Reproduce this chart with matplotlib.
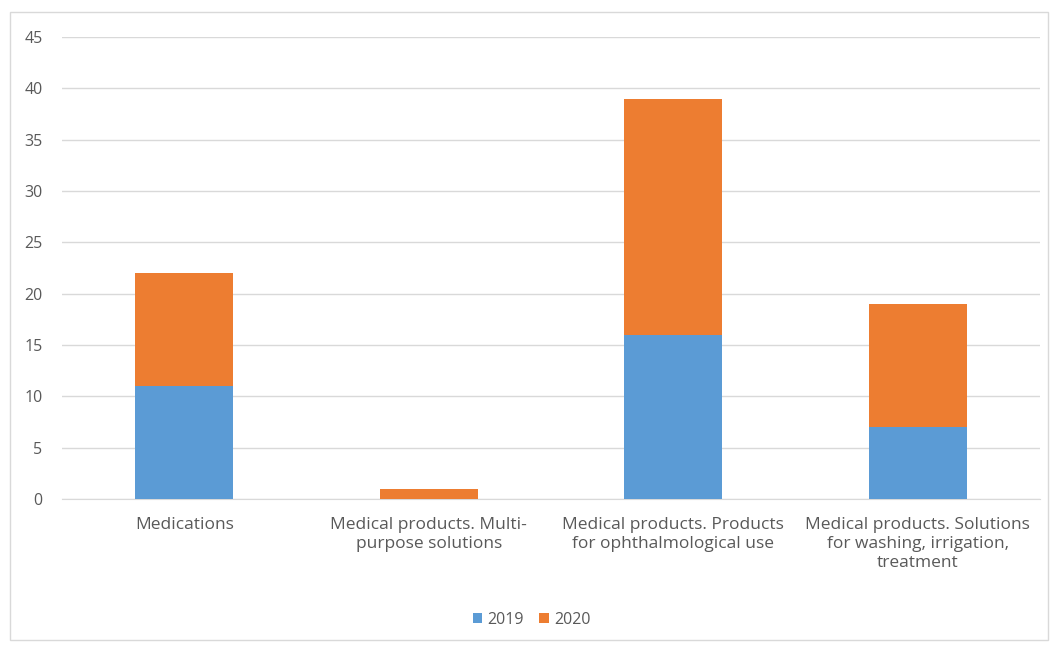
import numpy as np
import matplotlib
matplotlib.use("Agg")
import matplotlib.pyplot as plt
from matplotlib.patches import Rectangle

categories = ["Medications",
              "Medical products. Multi-\npurpose solutions",
              "Medical products. Products\nfor ophthalmological use",
              "Medical products. Solutions\nfor washing, irrigation,\ntreatment"]
vals_2019 = [11, 0, 16, 7]
vals_2020 = [11, 1, 23, 12]

plt.rcParams['font.family'] = ['Open Sans', 'DejaVu Sans']
txt = '#595959'

fig = plt.figure(figsize=(10.56, 6.45), dpi=100)
fig.patches.append(Rectangle((10/1056, 5/645), 1038/1056, 628/645, transform=fig.transFigure,
                             fill=False, edgecolor='#d9d9d9', linewidth=1))
ax = fig.add_axes([62/1056, 146/645, 978/1056, 462/645])

x = np.arange(len(categories))
ax.bar(x, vals_2019, width=0.4, color='#5B9BD5', label='2019', zorder=3)
ax.bar(x, vals_2020, width=0.4, bottom=vals_2019, color='#ED7D31', label='2020', zorder=3)

ax.set_xlim(-0.5, 3.5)
ax.set_ylim(0, 45)
ax.set_yticks(range(0, 46, 5))
ax.yaxis.grid(True, color='#d9d9d9', linewidth=1, zorder=0)
for s in ['top', 'right', 'left']:
    ax.spines[s].set_visible(False)
ax.spines['bottom'].set_color('#d9d9d9')
ax.tick_params(axis='y', length=0, colors=txt, labelsize=11.5, pad=14)
ax.tick_params(axis='x', length=0, colors=txt, labelsize=12.5, pad=13)
ax.set_xticks(x)
ax.set_xticklabels(categories, linespacing=1.25)

ax.legend(loc='center', bbox_to_anchor=(0.48, -0.262), ncol=2, frameon=False,
          fontsize=11.5, labelcolor=txt, handlelength=0.6, handleheight=0.6,
          handletextpad=0.3, columnspacing=1.0)

fig.savefig('out.png', dpi=100)
